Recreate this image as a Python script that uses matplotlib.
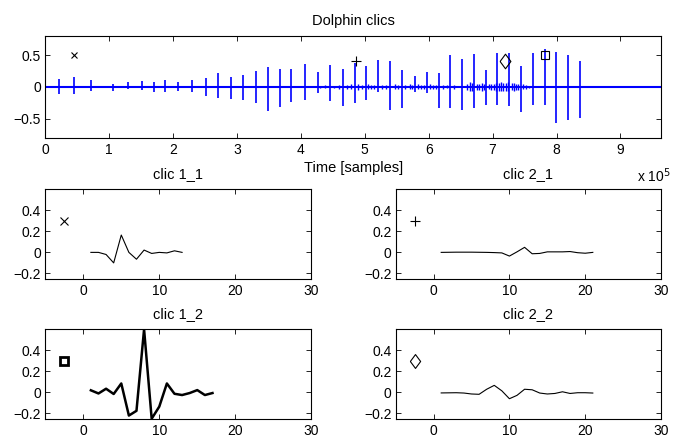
import numpy as np
import matplotlib
matplotlib.use("Agg")
import matplotlib.pyplot as plt

plt.rcParams['font.family'] = ['Liberation Sans', 'DejaVu Sans']
plt.rcParams['font.size'] = 10

# main recording: click times (x 1e5 samples) with positive / negative peaks
click_t = [0.21, 0.45, 0.71, 1.06, 1.29, 1.51, 1.70, 1.88, 2.07, 2.30, 2.51, 2.70,
           2.90, 3.09, 3.29, 3.48, 3.67, 3.85, 4.06, 4.26, 4.46, 4.66, 4.84, 5.02,
           5.21, 5.40, 5.58, 5.78, 5.97, 6.16, 6.33, 6.52, 6.71, 6.90, 7.07, 7.26,
           7.45, 7.64, 7.82, 7.99, 8.18, 8.36]
click_hi = [0.13, 0.16, 0.115, 0.05, 0.07, 0.085, 0.07, 0.10, 0.075, 0.10, 0.14, 0.22,
            0.16, 0.18, 0.25, 0.305, 0.285, 0.285, 0.36, 0.24, 0.35, 0.28, 0.37, 0.32,
            0.42, 0.41, 0.27, 0.17, 0.23, 0.22, 0.505, 0.44, 0.515, 0.26, 0.54, 0.535,
            0.33, 0.53, 0.595, 0.55, 0.505, 0.40]
click_lo = [-0.12, -0.105, -0.07, -0.06, -0.04, -0.05, -0.085, -0.085, -0.07, -0.085, -0.15, -0.18,
            -0.19, -0.20, -0.26, -0.38, -0.32, -0.24, -0.21, -0.095, -0.22, -0.30, -0.25, -0.21,
            -0.08, -0.36, -0.33, -0.085, -0.09, -0.34, -0.33, -0.37, -0.34, -0.29, -0.28, -0.30,
            -0.40, -0.28, -0.285, -0.57, -0.52, -0.49]
# low-level clutter between clicks
clutter_t = [4.30, 4.38, 4.52, 4.60, 4.72, 4.78, 4.90, 4.95, 5.05, 5.10, 5.15, 5.27,
             5.33, 5.47, 5.52, 5.63, 5.70, 5.74, 5.83, 5.88, 5.93, 6.02, 6.07, 6.12,
             6.22, 6.28, 6.40, 6.60, 6.64, 6.67, 6.75, 6.79, 6.83, 6.86, 6.94, 6.98,
             7.02, 7.05, 7.10, 7.13, 7.17, 7.21, 7.24, 7.30, 7.33, 7.37, 7.40, 7.48,
             7.52, 7.57]
clutter_a = [0.02, 0.025, 0.02, 0.03, 0.035, 0.04, 0.045, 0.03, 0.04, 0.035, 0.03, 0.035,
             0.03, 0.04, 0.03, 0.035, 0.04, 0.03, 0.04, 0.035, 0.03, 0.04, 0.035, 0.03,
             0.03, 0.025, 0.03, 0.05, 0.07, 0.06, 0.05, 0.045, 0.06, 0.05, 0.04, 0.045,
             0.05, 0.06, 0.065, 0.07, 0.06, 0.065, 0.07, 0.055, 0.06, 0.05, 0.045, 0.04,
             0.03, 0.02]
t_end = 9.64

# diamond shape a bit taller than wide, as in the original
diamond = [(-0.74, 0), (0, 1), (0.74, 0), (0, -1), (-0.74, 0)]

# markers in the main plot
mark_t = [0.45, 4.86, 7.20, 7.82]
mark_y = [0.5, 0.4, 0.4, 0.5]
mark_style = ['x', '+', diamond, 's']
mark_size = [4.5, 6.5, 10.5, 5.3]

# extracted clicks
c11 = [0, 0, -0.02, -0.10, 0.165, 0.0, -0.065, 0.022, -0.01, 0.0, -0.005, 0.015, 0.0]
c21 = [0, 0.001, 0.002, 0.002, 0.002, 0.001, 0.0, -0.002, -0.005, -0.035, 0.005, 0.048,
       -0.013, -0.01, 0.005, 0.005, 0.005, 0.008, -0.003, -0.008, 0.0]
c12 = [0.02, -0.01, 0.035, -0.015, 0.085, -0.22, -0.175, 0.6, -0.25, -0.135, 0.085,
       -0.013, -0.025, -0.006, 0.022, -0.025, -0.006]
c22 = [-0.005, -0.004, -0.003, -0.006, -0.015, -0.018, 0.03, 0.067, 0.015, -0.06, -0.028,
       0.03, 0.025, -0.006, -0.015, -0.01, 0.006, -0.01, -0.003, -0.003, -0.006]

fig = plt.figure(figsize=(6.87, 4.42), dpi=100)

def style(ax):
    ax.tick_params(direction='in', top=True, right=True, length=3.5, width=0.6)
    ax.tick_params(axis='x', pad=4)
    ax.tick_params(axis='y', pad=3)
    for s in ax.spines.values():
        s.set_linewidth(0.8)

ax = fig.add_axes([0.0659, 0.6885, 0.8967, 0.2301])
ax.axhline(0, color='b', lw=1.5)
ax.vlines(np.array(clutter_t) * 1e5, -np.array(clutter_a), clutter_a, color='b', lw=1.0)
ax.vlines(np.array(click_t) * 1e5, click_lo, click_hi, color='b', lw=1.2)
for t, y, m, s in zip(mark_t, mark_y, mark_style, mark_size):
    ax.plot(t * 1e5, y, marker=m, color='k', ms=s, mfc='none', mew=0.8, ls='none')
ax.set_xlim(0, t_end * 1e5)
ax.set_ylim(-0.8, 0.8)
ax.set_xticks(np.arange(10) * 1e5)
ax.set_xticklabels([str(i) for i in range(10)])
ax.set_yticks([-0.5, 0, 0.5])
ax.set_yticklabels(['\u22120.5', '0', '0.5'])
ax.set_title('Dolphin clics', pad=8, fontsize=10.5)
ax.set_xlabel('Time [samples]', labelpad=3, fontsize=10.5)
style(ax)
fig.text(637 / 687, 1 - 176 / 442, 'x 10$^5$', ha='left', va='center')

panels = [
    ('clic 1_1', c11, 'x', 5.5, [0.0659, 0.3695, 0.3872, 0.2023], 0.8),
    ('clic 2_1', c21, '+', 7, [0.5760, 0.3695, 0.3862, 0.2023], 0.8),
    ('clic 1_2', c12, 's', 6, [0.0659, 0.0527, 0.3872, 0.2023], 1.8),
    ('clic 2_2', c22, diamond, 10, [0.5760, 0.0527, 0.3862, 0.2023], 0.8),
]
for title, vals, m, ms, rect, lw in panels:
    a = fig.add_axes(rect)
    a.plot(np.arange(1, len(vals) + 1), vals, color='k', lw=lw)
    a.plot(-2.5, 0.3, marker=m, color='k', mfc='none', ls='none',
           ms=ms, mew=2 if m == 's' else 0.8)
    a.set_xlim(-5, 30)
    a.set_ylim(-0.25, 0.6)
    a.set_xticks([0, 10, 20, 30])
    a.set_yticks([-0.2, 0, 0.2, 0.4])
    a.set_yticklabels(['\u22120.2', '0', '0.2', '0.4'])
    a.set_title(title, pad=8, fontsize=10.5)
    style(a)

fig.savefig('out.png', dpi=100)
